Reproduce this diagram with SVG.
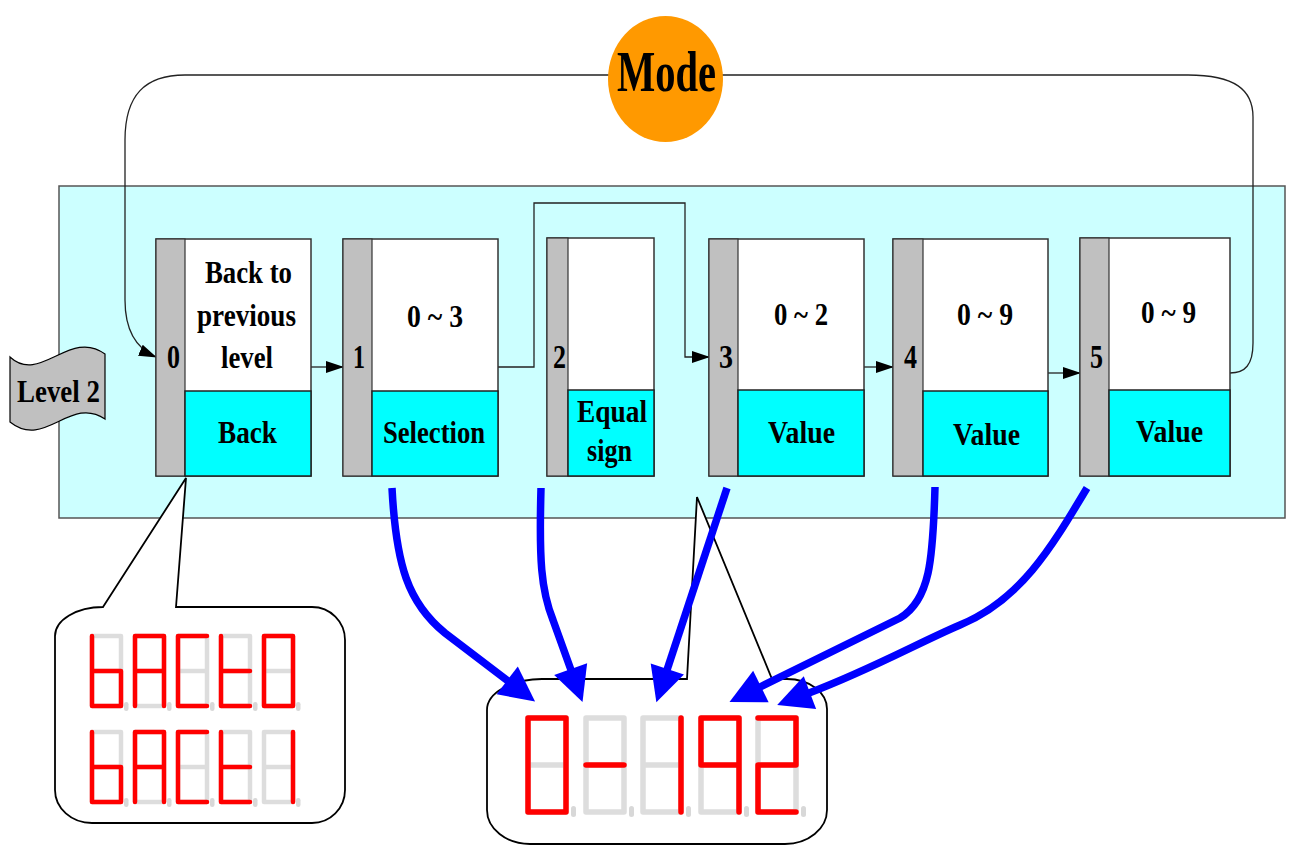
<svg xmlns="http://www.w3.org/2000/svg" xmlns:xlink="http://www.w3.org/1999/xlink" width="1292" height="846" viewBox="0 0 1292 846">
<style>
text{font-family:"Liberation Serif","Times New Roman",serif;font-weight:bold;fill:#000}
.t{font-size:32px}
.n{font-size:33px}
.box{fill:#fff;stroke:#333;stroke-width:1.5}
.strip{fill:#c0c0c0;stroke:#333;stroke-width:1.2}
.low{fill:#00ffff;stroke:#222;stroke-width:1.5}
.conn{fill:none;stroke:#222;stroke-width:1.3}
.blue{fill:none;stroke:#0000ff;stroke-width:7.5;marker-end:url(#bh)}
.off{fill:none;stroke:#dddddd;stroke-linecap:round;stroke-linejoin:round}
.on{fill:none;stroke:#ff0000;stroke-linecap:round;stroke-linejoin:round}
.s1{stroke-width:4.5}
.s2{stroke-width:5.5}
.dot{fill:#d8d8d8}
.call{fill:#fff;stroke:#000;stroke-width:1.8}
</style>
<defs>
<marker id="ah" markerUnits="userSpaceOnUse" viewBox="0 0 18 12" markerWidth="18" markerHeight="12" refX="17" refY="6" orient="auto">
<path d="M0,0 L18,6 L0,12 Z" fill="#000"/>
</marker>
<marker id="bh" markerUnits="userSpaceOnUse" viewBox="0 -18 36 36" markerWidth="36" markerHeight="36" refX="0" refY="0" orient="auto" overflow="visible">
<path d="M-1,-17.5 L34,0 L-1,17.5 Z" fill="#0000ff"/>
</marker>
<g id="g1">
<path class="off s1" d="M0,0H29V70H0Z M0,35H29"/>
<rect class="dot" x="32" y="66" width="4.5" height="9" rx="2.2"/>
</g>
<g id="g2">
<path class="off s2" d="M0,0H38V94H0Z M0,47H38"/>
<rect class="dot" x="43" y="88" width="5" height="11" rx="2.5"/>
</g>
</defs>

<!-- panel -->
<rect id="panel" x="59" y="186" width="1226" height="332" fill="#ccffff" stroke="#555" stroke-width="1.5"/>

<!-- mode loop line (under ellipse) -->
<g id="connectors">
<path class="conn" d="M1230,373 C1245,373 1253,365 1253,343 V117 C1253,90 1235,75 1188,75 H185 C145,75 125,95 125,140 V300 C125,330 135,348 156,357" marker-end="url(#ah)"/>
<path class="conn" d="M311,367 H343" marker-end="url(#ah)"/>
<path class="conn" d="M498,367 H534 V203 H685 V357 H709" marker-end="url(#ah)"/>
<path class="conn" d="M864,367 H893" marker-end="url(#ah)"/>
<path class="conn" d="M1048,373 H1080" marker-end="url(#ah)"/>
</g>

<g id="mode">
<ellipse cx="665.5" cy="79" rx="57.5" ry="63" fill="#ff9900"/>
<text x="617" y="91" style="font-size:57px" textLength="99" lengthAdjust="spacingAndGlyphs">Mode</text>
</g>

<g id="level2">
<path d="M10,357 C40,385 70,328 105,354 V419 C70,395 45,450 10,422 Z" fill="#c0c0c0" stroke="#000" stroke-width="1.2"/>
<text x="17" y="402" style="font-size:31px" textLength="83" lengthAdjust="spacingAndGlyphs">Level 2</text>
</g>

<g id="node0">
<rect class="box" x="156" y="239" width="155" height="237"/>
<rect class="strip" x="156" y="239" width="29" height="237"/>
<rect class="low" x="185" y="391" width="126" height="85"/>
<text class="n" x="167" y="368" textLength="13" lengthAdjust="spacingAndGlyphs">0</text>
<text class="t" x="205" y="283" textLength="87" lengthAdjust="spacingAndGlyphs">Back to</text>
<text class="t" x="197" y="326" textLength="99" lengthAdjust="spacingAndGlyphs">previous</text>
<text class="t" x="221" y="368" textLength="52" lengthAdjust="spacingAndGlyphs">level</text>
<text class="t" x="218" y="443" textLength="59" lengthAdjust="spacingAndGlyphs">Back</text>
</g>

<g id="node1">
<rect class="box" x="343" y="239" width="155" height="237"/>
<rect class="strip" x="343" y="239" width="29" height="237"/>
<rect class="low" x="372" y="391" width="126" height="85"/>
<text class="n" x="353" y="368" textLength="12" lengthAdjust="spacingAndGlyphs">1</text>
<text class="t" x="407" y="327" textLength="56" lengthAdjust="spacingAndGlyphs">0 ~ 3</text>
<text class="t" x="383" y="443" textLength="102" lengthAdjust="spacingAndGlyphs">Selection</text>
</g>

<g id="node2">
<rect class="box" x="547" y="238" width="107" height="238"/>
<rect class="strip" x="547" y="238" width="21" height="238"/>
<rect class="low" x="568" y="390" width="86" height="86"/>
<text class="n" x="553" y="368" textLength="13" lengthAdjust="spacingAndGlyphs">2</text>
<text class="t" x="577" y="422" textLength="70" lengthAdjust="spacingAndGlyphs">Equal</text>
<text class="t" x="587" y="461" textLength="45" lengthAdjust="spacingAndGlyphs">sign</text>
</g>

<g id="node3">
<rect class="box" x="709" y="239" width="155" height="237"/>
<rect class="strip" x="709" y="239" width="29" height="237"/>
<rect class="low" x="738" y="390" width="126" height="86"/>
<text class="n" x="719" y="368" textLength="14" lengthAdjust="spacingAndGlyphs">3</text>
<text class="t" x="774" y="325" textLength="54" lengthAdjust="spacingAndGlyphs">0 ~ 2</text>
<text class="t" x="768" y="443" textLength="67" lengthAdjust="spacingAndGlyphs">Value</text>
</g>

<g id="node4">
<rect class="box" x="893" y="239" width="155" height="237"/>
<rect class="strip" x="893" y="239" width="30" height="237"/>
<rect class="low" x="923" y="391" width="125" height="85"/>
<text class="n" x="904" y="368" textLength="13" lengthAdjust="spacingAndGlyphs">4</text>
<text class="t" x="957" y="325" textLength="56" lengthAdjust="spacingAndGlyphs">0 ~ 9</text>
<text class="t" x="953" y="445" textLength="67" lengthAdjust="spacingAndGlyphs">Value</text>
</g>

<g id="node5">
<rect class="box" x="1080" y="238" width="150" height="238"/>
<rect class="strip" x="1080" y="238" width="29" height="238"/>
<rect class="low" x="1109" y="390" width="121" height="86"/>
<text class="n" x="1090" y="368" textLength="13" lengthAdjust="spacingAndGlyphs">5</text>
<text class="t" x="1141" y="323" textLength="55" lengthAdjust="spacingAndGlyphs">0 ~ 9</text>
<text class="t" x="1136" y="442" textLength="67" lengthAdjust="spacingAndGlyphs">Value</text>
</g>

<!-- callouts -->
<g id="callout-back">
<path class="call" d="M103,607 L186,478 L176,607 H312 A33,33 0 0 1 345,640 V790 A33,33 0 0 1 312,823 H92 A37,33 0 0 1 55,790 V636 A48,29 0 0 1 103,607 Z"/>
<g transform="translate(92,636)"><use xlink:href="#g1"/><path class="on s1" d="M0,0V70H29V35H0"/></g>
<g transform="translate(135,636)"><use xlink:href="#g1"/><path class="on s1" d="M0,70V0H29V70M0,35H29"/></g>
<g transform="translate(178,636)"><use xlink:href="#g1"/><path class="on s1" d="M29,0H0V70H29"/></g>
<g transform="translate(221,636)"><use xlink:href="#g1"/><path class="on s1" d="M0,0V70H29M0,35H29"/></g>
<g transform="translate(264,636)"><use xlink:href="#g1"/><path class="on s1" d="M0,0H29V70H0Z"/></g>
<g transform="translate(92,732)"><use xlink:href="#g1"/><path class="on s1" d="M0,0V70H29V35H0"/></g>
<g transform="translate(135,732)"><use xlink:href="#g1"/><path class="on s1" d="M0,70V0H29V70M0,35H29"/></g>
<g transform="translate(178,732)"><use xlink:href="#g1"/><path class="on s1" d="M29,0H0V70H29"/></g>
<g transform="translate(221,732)"><use xlink:href="#g1"/><path class="on s1" d="M0,0V70H29M0,35H29"/></g>
<g transform="translate(264,732)"><use xlink:href="#g1"/><path class="on s1" d="M29,0V70"/></g>
</g>

<g id="callout-display">
<path class="call" d="M687,679 L697,497 L772,679 H787 A40,30 0 0 1 827,709 V810 A42,34 0 0 1 785,844 H530 A43,34 0 0 1 487,810 V710 A55,31 0 0 1 542,679 Z"/>
<g transform="translate(528,718)"><use xlink:href="#g2"/><path class="on s2" d="M0,0H38V94H0Z"/></g>
<g transform="translate(586,718)"><use xlink:href="#g2"/><path class="on s2" d="M0,47H38"/></g>
<g transform="translate(643,718)"><use xlink:href="#g2"/><path class="on s2" d="M38,0V94"/></g>
<g transform="translate(701,718)"><use xlink:href="#g2"/><path class="on s2" d="M38,47H0V0H38V94"/></g>
<g transform="translate(758,718)"><use xlink:href="#g2"/><path class="on s2" d="M0,0H38V47H0V94H38"/></g>
</g>

<!-- blue arrows -->
<g id="blue-arrows">
<path class="blue" d="M392,488 C396,565 408,603 445,633 L508,681"/>
<path class="blue" d="M541,488 C539,560 541,590 553,620 L571,670"/>
<path class="blue" d="M727,488 L667,670"/>
<path class="blue" d="M935,487 C933,560 930,600 900,618 L760,687"/>
<path class="blue" d="M1087,488 C1050,550 1020,600 960,625 C920,642 870,670 809,693"/>
</g>
</svg>
